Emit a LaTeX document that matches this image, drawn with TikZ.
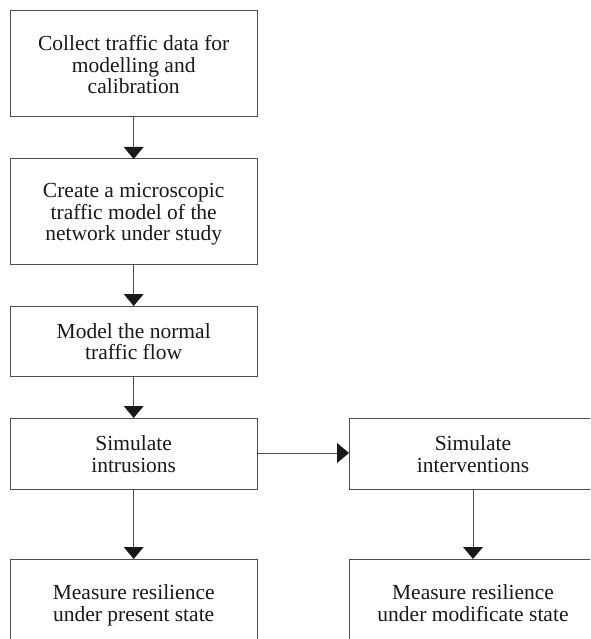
\documentclass[tikz,border=0pt]{standalone}
\usepackage{fontspec}
\setmainfont{Liberation Serif}
\usetikzlibrary{arrows.meta}
\begin{document}
\begin{tikzpicture}[x=1pt,y=-1pt,
  boxstyle/.style={draw=black!70,line width=1pt},
  lbl/.style={align=center,font=\fontsize{21.5}{21.5}\selectfont,text=black!90,inner sep=0pt,
    yshift=-3.5pt,execute at begin node=\strut, execute at end node=\strut},
  flow/.style={draw=black!70,line width=1pt,-{Triangle[length=12pt,width=20pt,fill=black!90,line width=0pt]}}]
\useasboundingbox (0,0) rectangle (590,639);
\clip (0,0) rectangle (590,639);
\fill[white] (0,0) rectangle (590,639);
% boxes
\draw[boxstyle] (10,10.7) rectangle (257.5,116.3);
\node[lbl] (t1) at (133.7,64.5) {Collect traffic data for\\modelling and\\calibration};
\draw[boxstyle] (10,159) rectangle (257.5,264);
\node[lbl] (t2) at (133.7,212) {Create a microscopic\\traffic model of the\\network under study};
\draw[boxstyle] (10,306) rectangle (257.5,376);
\node[lbl] (t3) at (133.7,341.5) {Model the normal\\traffic flow};
\draw[boxstyle] (10,418) rectangle (257.5,489);
\node[lbl] (t4) at (133.7,454) {Simulate\\intrusions};
\draw[boxstyle] (349,418) rectangle (597,489);
\node[lbl] (t5) at (473,454) {Simulate\\interventions};
\draw[boxstyle] (10,559) rectangle (257.5,646);
\node[lbl] (t6) at (133.7,603) {Measure resilience\\under present state};
\draw[boxstyle] (349,559) rectangle (597,646);
\node[lbl] (t7) at (473,603) {Measure resilience\\under modificate state};
% anchors
\coordinate (b1s) at (133.7,116.3);
\coordinate (b2n) at (133.7,159);
\coordinate (b2s) at (133.7,264);
\coordinate (b3n) at (133.7,306);
\coordinate (b3s) at (133.7,376);
\coordinate (b4n) at (133.7,418);
\coordinate (b4s) at (133.7,489);
\coordinate (b4e) at (257.5,453);
\coordinate (b5w) at (349,453);
\coordinate (b5s) at (473,489);
\coordinate (b6n) at (133.7,559);
\coordinate (b7n) at (473,559);
\draw[flow] (b1s) -- (b2n);
\draw[flow] (b2s) -- (b3n);
\draw[flow] (b3s) -- (b4n);
\draw[flow] (b4e) -- (b5w);
\draw[flow] (b4s) -- (b6n);
\draw[flow] (b5s) -- (b7n);
\end{tikzpicture}
\end{document}
